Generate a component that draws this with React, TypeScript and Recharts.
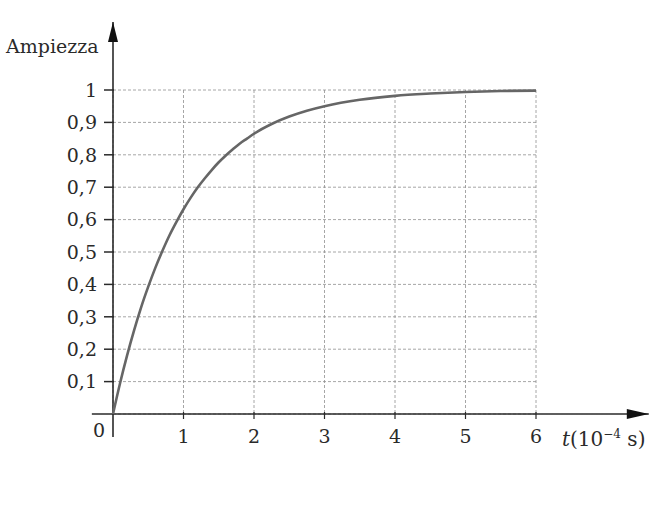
import { LineChart, Line, XAxis, YAxis, CartesianGrid, ReferenceLine } from "recharts";

// time in units of 10^-4 s
const times = [
  0, 0.1, 0.2, 0.3, 0.4, 0.5, 0.6, 0.7, 0.8, 0.9, 1, 1.1, 1.2, 1.3, 1.4, 1.5, 1.6, 1.7, 1.8, 1.9, 2,
  2.25, 2.5, 2.75, 3, 3.5, 4, 4.5, 5, 5.5, 6,
];
// amplitude
const amplitude = [
  0, 0.095, 0.181, 0.259, 0.33, 0.393, 0.451, 0.503, 0.551, 0.593, 0.632, 0.667, 0.699, 0.727, 0.753,
  0.777, 0.798, 0.817, 0.835, 0.85, 0.865, 0.895, 0.918, 0.936, 0.95, 0.97, 0.982, 0.989, 0.994, 0.997,
  0.998,
];

const xTicks = [0, 1, 2, 3, 4, 5, 6];
const yTicks = [0.1, 0.2, 0.3, 0.4, 0.5, 0.6, 0.7, 0.8, 0.9, 1];

const data = times.map((t, i) => ({ t, a: amplitude[i] }));

const FONT = "'DejaVu Serif', serif";
const INK = "#2a2a2a";

function XTick({ x, y, payload }: any) {
  const isZero = payload.value === 0;
  return (
    <g>
      {!isZero && <line x1={x} y1={y - 10} x2={x} y2={y - 3} stroke={INK} strokeWidth={1.2} />}
      <text
        x={isZero ? x - 14 : x}
        y={isZero ? y + 2 : y + 8}
        dy="0.71em"
        textAnchor="middle"
        fontFamily={FONT}
        fontSize={19}
        fill={INK}
      >
        {payload.value}
      </text>
    </g>
  );
}

function YTick({ x, y, payload }: any) {
  return (
    <g>
      <line x1={x - 1} y1={y} x2={x + 9} y2={y} stroke={INK} strokeWidth={1.5} />
      <text x={x - 8} y={y} dy="0.36em" textAnchor="end" fontFamily={FONT} fontSize={19} fill={INK}>
        {String(payload.value).replace(".", ",")}
      </text>
    </g>
  );
}

function arrowAxis(dir: "up" | "right") {
  return (p: any) => {
    const { x1, y1, x2, y2 } = p;
    const head =
      dir === "up"
        ? `${x2},${y2} ${x2 - 5},${y2 + 20} ${x2 + 5},${y2 + 20}`
        : `${x2},${y2} ${x2 - 22},${y2 - 5} ${x2 - 22},${y2 + 5}`;
    return (
      <g>
        <line x1={x1} y1={y1} x2={x2} y2={y2} stroke={INK} strokeWidth={1.6} />
        <polygon points={head} fill="#111" />
      </g>
    );
  };
}

export default function App() {
  return (
    <div style={{ position: "absolute", left: 0, top: 0, width: 664, height: 508, background: "#fff" }}>
      <LineChart width={664} height={508} data={data} margin={{ top: 90, right: 128, bottom: 0, left: 0 }}>
        <CartesianGrid stroke="#8f8f8f" strokeWidth={0.8} strokeDasharray="3 2" />
        <XAxis
          dataKey="t"
          type="number"
          domain={[0, 6]}
          ticks={xTicks}
          height={94}
          axisLine={false}
          tickLine={false}
          tick={<XTick />}
        />
        <YAxis
          type="number"
          domain={[0, 1]}
          ticks={yTicks}
          width={113}
          axisLine={false}
          tickLine={false}
          tick={<YTick />}
        />
        <ReferenceLine
          segment={[{ x: 0, y: -0.071 }, { x: 0, y: 1.21 }]}
          ifOverflow="visible"
          shape={arrowAxis("up")}
        />
        <ReferenceLine
          segment={[{ x: -0.3, y: 0 }, { x: 7.6, y: 0 }]}
          ifOverflow="visible"
          shape={arrowAxis("right")}
        />
        <Line
          dataKey="a"
          type="monotone"
          stroke="#666666"
          strokeWidth={2.6}
          dot={false}
          isAnimationActive={false}
        />
      </LineChart>
      <div style={{ position: "absolute", left: 6, top: 35, fontFamily: FONT, fontSize: 19, color: INK }}>
        Ampiezza
      </div>
      <div style={{ position: "absolute", left: 562, top: 427, fontFamily: FONT, fontSize: 20, color: INK, whiteSpace: "nowrap" }}>
        <i>t</i>(10<sup style={{ fontSize: 12 }}>−4</sup> s)
      </div>
    </div>
  );
}
